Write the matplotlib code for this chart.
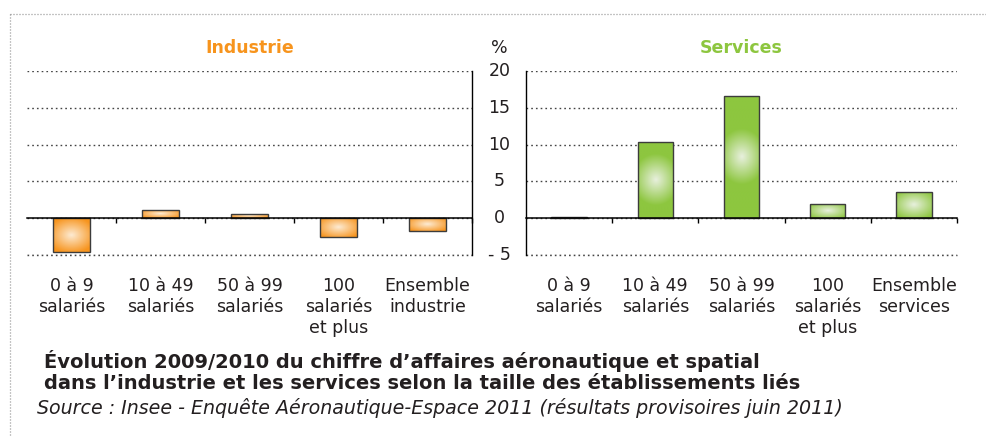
import numpy as np
import matplotlib
matplotlib.use('Agg')
import matplotlib.pyplot as plt
from matplotlib.lines import Line2D
from matplotlib.colors import to_rgb

plt.rcParams['font.family'] = ['DejaVu Sans']

# données (évolution 2009/2010, en %)
industrie_labels = ['0 à 9\nsalariés', '10 à 49\nsalariés', '50 à 99\nsalariés',
                    '100\nsalariés\net plus', 'Ensemble\nindustrie']
industrie_vals = [-4.6, 1.15, 0.55, -2.6, -1.8]

services_labels = ['0 à 9\nsalariés', '10 à 49\nsalariés', '50 à 99\nsalariés',
                   '100\nsalariés\net plus', 'Ensemble\nservices']
services_vals = [0.2, 10.4, 16.6, 1.95, 3.6]

yticks = [-5, 0, 5, 10, 15, 20]
ytick_labels = ['- 5', '0', '5', '10', '15', '20']

ORANGE = '#F7941D'
ORANGE_LIGHT = '#FDEBD3'
GREEN = '#8DC63F'
GREEN_LIGHT = '#E8F0DE'
TXT = '#231F20'
GRID = dict(color='#444444', linestyle=(0, (1.2, 2.2)), linewidth=1.0)

W, H = 986, 436
fig = plt.figure(figsize=(W / 100, H / 100), dpi=100)


def box(x0, x1, y0, y1):
    # pixels -> fraction de figure
    return [x0 / W, 1 - y1 / H, (x1 - x0) / W, (y1 - y0) / H]


ax_i = fig.add_axes(box(27, 472, 71, 255))
ax_s = fig.add_axes(box(526, 957, 71, 255))


def gradient_bars(ax, vals, base, light):
    x = np.arange(len(vals))
    bars = ax.bar(x, vals, width=0.41, color=base, zorder=3, linewidth=0)
    base = np.array(to_rgb(base))
    light = np.array(to_rgb(light))
    for b in bars:
        x0, y0 = b.get_xy()
        w, h = b.get_width(), b.get_height()
        # dégradé radial centré
        ny = max(int(abs(h) * 8), 8)
        yy, xx = np.mgrid[-1:1:complex(ny), -1:1:60j]
        ry = max(abs(h) / 5.0, 0.45)
        t = np.clip(np.sqrt((xx * 0.75) ** 2 + (yy * ry / 1.6) ** 2 + (yy * 0.7) ** 2), 0, 1)
        img = light * (1 - t[..., None]) + base * t[..., None]
        im = ax.imshow(img, extent=(x0, x0 + w, y0, y0 + h),
                       aspect='auto', zorder=3.5, interpolation='bilinear')
        im.set_clip_path(b)
    # contour
    ax.bar(x, vals, width=0.41, fill=False, edgecolor='#3C3C3C', linewidth=1.0, zorder=4)


def style_axes(ax, side):
    ax.set_xlim(-0.5, 4.5)
    ax.set_ylim(-5, 20)
    ax.set_yticks(yticks)
    ax.tick_params(axis='y', length=0, labelleft=False, labelright=False)
    ax.yaxis.grid(True, **GRID)
    ax.axhline(yticks[0], clip_on=False, zorder=1, **GRID)
    ax.set_axisbelow(True)
    ax.spines['top'].set_visible(False)
    ax.spines['bottom'].set_position(('data', 0))
    ax.spines['bottom'].set_linewidth(1.1)
    ax.spines['bottom'].set_zorder(5)
    if side == 'left':
        ax.spines['left'].set_visible(False)
        ax.spines['right'].set_linewidth(1.0)
    else:
        ax.spines['right'].set_visible(False)
        ax.spines['left'].set_linewidth(1.0)
    ax.set_xticks([0.5, 1.5, 2.5, 3.5, 4.5])
    ax.tick_params(axis='x', direction='out', length=3.5, width=1.0,
                   labelbottom=False)


gradient_bars(ax_i, industrie_vals, ORANGE, ORANGE_LIGHT)
gradient_bars(ax_s, services_vals, GREEN, GREEN_LIGHT)
style_axes(ax_i, 'left')
style_axes(ax_s, 'right')

ax_i.set_title('Industrie', color=ORANGE, fontweight='bold', fontsize=12.5, pad=13)
ax_s.set_title('Services', color=GREEN, fontweight='bold', fontsize=12.5, pad=13)

for ax, labels in [(ax_i, industrie_labels), (ax_s, services_labels)]:
    for i, lab in enumerate(labels):
        ax.annotate(lab, xy=(i, 0), xycoords=('data', 'axes fraction'),
                    xytext=(0, -16), textcoords='offset points',
                    ha='center', va='top', fontsize=12.5, color=TXT)

# graduations communes, entre les deux graphiques
for v, lab in zip(yticks, ytick_labels):
    ax_s.annotate(lab, xy=(0, v), xycoords=('axes fraction', 'data'),
                  xytext=(-19, 0), textcoords='offset points',
                  ha='center', va='center', fontsize=12.5, color=TXT)
fig.text(499 / W, 1 - 53 / H, '%', ha='center', va='baseline', fontsize=12.5, color=TXT)

# titre : va='baseline' s'applique à la dernière ligne
fig.text(44 / W, 1 - 389 / H,
         'Évolution 2009/2010 du chiffre d’affaires aéronautique et spatial\n'
         'dans l’industrie et les services selon la taille des établissements liés',
         ha='left', va='baseline', fontsize=14, fontweight='bold', color=TXT,
         linespacing=1.12)
fig.text(37 / W, 1 - 414 / H,
         'Source : Insee - Enquête Aéronautique-Espace 2011 (résultats provisoires juin 2011)',
         ha='left', va='baseline', fontsize=13.7, style='italic', color=TXT)

# cadre pointillé
dot = dict(color='#8A8A8A', linewidth=0.9, linestyle=(0, (0.8, 1.6)))
fig.add_artist(Line2D([10 / W, 1], [1 - 14 / H, 1 - 14 / H], transform=fig.transFigure, **dot))
fig.add_artist(Line2D([10 / W, 10 / W], [1 - 14 / H, 0], transform=fig.transFigure, **dot))

fig.savefig('out.png', dpi=100)
